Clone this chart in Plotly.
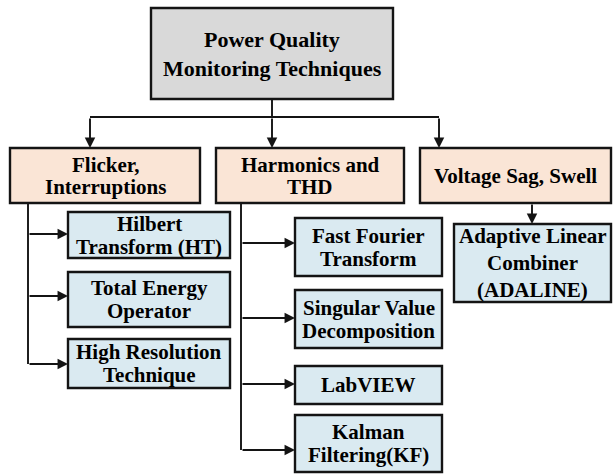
import plotly.graph_objects as go

# ---- content ----
root_label = "Power Quality<br>Monitoring Techniques"
category_labels = ["Flicker,<br>Interruptions", "Harmonics and<br>THD", "Voltage Sag, Swell"]
flicker_children = ["Hilbert<br>Transform (HT)", "Total Energy<br>Operator", "High Resolution<br>Technique"]
harmonics_children = ["Fast Fourier<br>Transform", "Singular Value<br>Decomposition", "LabVIEW", "Kalman<br>Filtering(KF)"]
voltage_children = ["Adaptive Linear<br>Combiner<br>(ADALINE)"]

# ---- geometry (pixel coordinates, y downward) ----
root_box = (151, 8, 393, 99)
cat_boxes = [(10, 148, 200, 203), (216, 148, 404, 203), (420, 148, 611, 203)]
flicker_boxes = [(68, 212, 230, 258), (68, 272, 230, 327), (68, 339, 230, 388)]
harm_boxes = [(295, 218, 442, 276), (295, 290, 442, 348), (295, 366, 442, 404), (295, 415, 442, 472)]
volt_boxes = [(454, 224, 611, 302)]

GRAY = "#d9d9d9"
PEACH = "#fae5d6"
BLUE = "#daeaf1"
LINE = "#141414"
FONT = "Liberation Serif"

fig = go.Figure()
shapes = []
annotations = []

def box(b, fill, label, size, spacing):
    x0, y0, x1, y1 = b
    shapes.append(dict(type="rect", xref="x", yref="y", x0=x0, y0=y0, x1=x1, y1=y1,
                       fillcolor=fill, line=dict(color=LINE, width=2.4), layer="below"))
    parts = label.split("<br>")
    n = len(parts)
    cy = (y0 + y1) / 2
    for i, p in enumerate(parts):
        annotations.append(dict(x=(x0 + x1) / 2, y=cy + (i - (n - 1) / 2) * spacing,
                                xref="x", yref="y", yanchor="middle",
                                text="<b>" + p + "</b>", showarrow=False,
                                font=dict(family=FONT, size=size, color="black")))

def line(x0, y0, x1, y1):
    shapes.append(dict(type="line", xref="x", yref="y", x0=x0, y0=y0, x1=x1, y1=y1,
                       line=dict(color=LINE, width=1.9)))

def arrow(x0, y0, x1, y1):
    annotations.append(dict(x=x1, y=y1, ax=x0, ay=y0, xref="x", yref="y",
                            axref="x", ayref="y", text="", showarrow=True,
                            arrowhead=2, arrowsize=1.1, arrowwidth=1.9,
                            arrowcolor=LINE, standoff=0))

box(root_box, GRAY, root_label, 22, 29)
for b, lab in zip(cat_boxes, category_labels):
    box(b, PEACH, lab, 21, 22)
for b, lab in zip(flicker_boxes, flicker_children):
    box(b, BLUE, lab, 21, 23)
for b, lab in zip(harm_boxes, harmonics_children):
    box(b, BLUE, lab, 21, 23)
for b, lab in zip(volt_boxes, voltage_children):
    box(b, BLUE, lab, 21, 27)

# root -> categories
root_cx = 272
line(root_cx, root_box[3], root_cx, 117)
line(90, 117, 439, 117)
for cx in [90, 272, 439]:
    arrow(cx, 117, cx, cat_boxes[0][1])

# flicker branch
fx = 28
line(fx, cat_boxes[0][3], fx, 364)
for y in [234, 296, 364]:
    arrow(fx, y, flicker_boxes[0][0], y)

# harmonics branch
hx = 241
line(hx, cat_boxes[1][3], hx, 450)
for y in [243, 318, 384, 450]:
    arrow(hx, y, harm_boxes[0][0], y)

# voltage branch
arrow(532, cat_boxes[2][3], 532, volt_boxes[0][1])

fig.update_layout(
    width=613, height=474,
    margin=dict(l=0, r=0, t=0, b=0),
    paper_bgcolor="white", plot_bgcolor="white",
    xaxis=dict(range=[0, 613], visible=False, fixedrange=True),
    yaxis=dict(range=[474, 0], visible=False, fixedrange=True),
    shapes=shapes, annotations=annotations, showlegend=False,
)
fig.write_html("out.html", config={"displayModeBar": False},
               post_script="document.body.style.margin='0';document.body.style.padding='0';")
